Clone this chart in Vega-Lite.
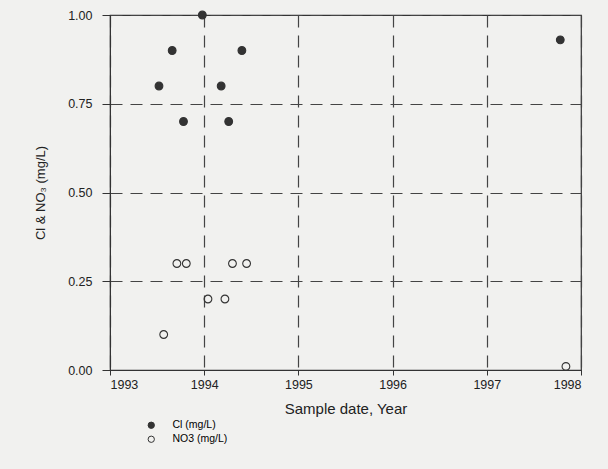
{
  "$schema": "https://vega.github.io/schema/vega-lite/v6.json",
  "width": 471,
  "height": 355,
  "autosize": {"type": "none"},
  "padding": {"left": 110, "top": 15, "right": 27, "bottom": 99},
  "background": "#f1f1ef",
  "config": {
    "font": "Liberation Sans",
    "view": {"stroke": "#333333", "strokeWidth": 1.2},
    "axis": {
      "domainColor": "#333333",
      "tickColor": "#333333",
      "gridColor": "#444444",
      "gridDash": [12, 8],
      "gridWidth": 1.2,
      "labelColor": "#222222",
      "titleColor": "#222222",
      "labelFontSize": 12.5,
      "titleFontWeight": "normal"
    }
  },
  "data": {
    "values": [
      {"year": 1993.52, "value": 0.80, "series": "Cl (mg/L)"},
      {"year": 1993.66, "value": 0.90, "series": "Cl (mg/L)"},
      {"year": 1993.78, "value": 0.70, "series": "Cl (mg/L)"},
      {"year": 1993.98, "value": 1.00, "series": "Cl (mg/L)"},
      {"year": 1994.18, "value": 0.80, "series": "Cl (mg/L)"},
      {"year": 1994.26, "value": 0.70, "series": "Cl (mg/L)"},
      {"year": 1994.40, "value": 0.90, "series": "Cl (mg/L)"},
      {"year": 1997.78, "value": 0.93, "series": "Cl (mg/L)"},
      {"year": 1993.57, "value": 0.10, "series": "NO3 (mg/L)"},
      {"year": 1993.71, "value": 0.30, "series": "NO3 (mg/L)"},
      {"year": 1993.81, "value": 0.30, "series": "NO3 (mg/L)"},
      {"year": 1994.04, "value": 0.20, "series": "NO3 (mg/L)"},
      {"year": 1994.22, "value": 0.20, "series": "NO3 (mg/L)"},
      {"year": 1994.30, "value": 0.30, "series": "NO3 (mg/L)"},
      {"year": 1994.45, "value": 0.30, "series": "NO3 (mg/L)"},
      {"year": 1997.84, "value": 0.01, "series": "NO3 (mg/L)"}
    ]
  },
  "mark": {"type": "point", "filled": true, "stroke": "#333333", "strokeWidth": 1.1, "size": 60, "opacity": 1, "clip": false},
  "encoding": {
    "x": {
      "field": "year",
      "type": "quantitative",
      "scale": {"domain": [1993, 1998], "nice": false, "zero": false},
      "axis": {
        "values": [1993, 1994, 1995, 1996, 1997, 1998],
        "format": "d",
        "title": "Sample date, Year",
        "titleFontSize": 15,
        "titlePadding": 11,
        "tickSize": 5,
        "labelPadding": 3
      }
    },
    "y": {
      "field": "value",
      "type": "quantitative",
      "scale": {"domain": [0, 1], "nice": false},
      "axis": {
        "values": [0, 0.25, 0.5, 0.75, 1],
        "format": ".2f",
        "title": "Cl & NO₃ (mg/L)",
        "titleFontSize": 13,
        "titlePadding": 20,
        "tickSize": 8,
        "labelPadding": 10
      }
    },
    "fill": {
      "field": "series",
      "type": "nominal",
      "scale": {"domain": ["Cl (mg/L)", "NO3 (mg/L)"], "range": ["#333333", "#ffffff00"]},
      "legend": {
        "title": null,
        "orient": "none",
        "legendX": 36,
        "legendY": 405,
        "labelFontSize": 10.5,
        "symbolSize": 40,
        "symbolStrokeColor": "#333333",
        "symbolStrokeWidth": 1,
        "rowPadding": 3,
        "labelOffset": 16
      }
    }
  }
}
